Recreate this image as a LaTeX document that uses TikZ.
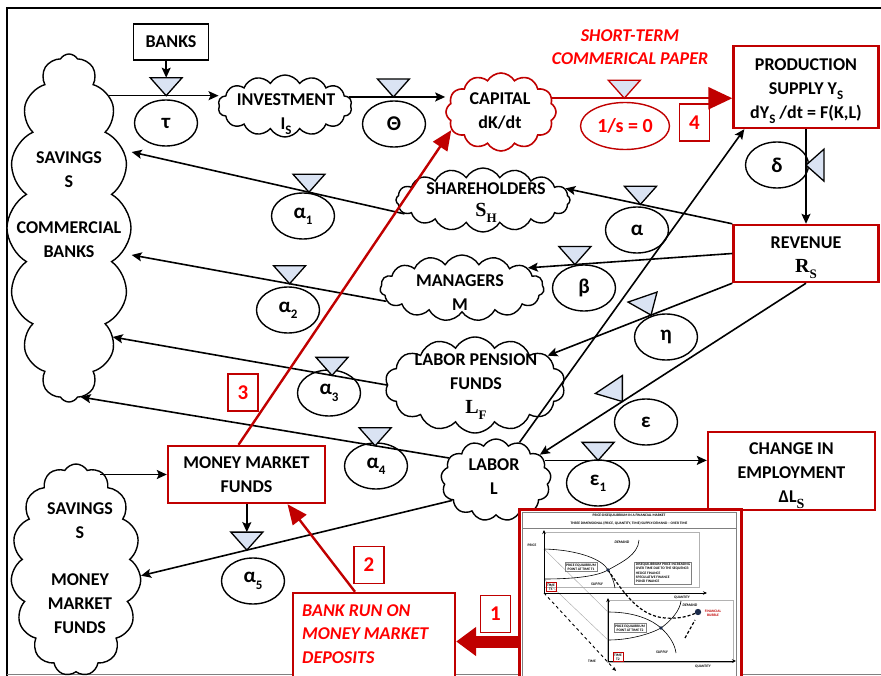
\documentclass[tikz,border=0pt]{standalone}
\usepackage{fontspec}
\setmainfont{Carlito}
\newfontfamily\timesb{Liberation Serif}
\usetikzlibrary{shapes.geometric, shapes.symbols, arrows.meta, calc}

\definecolor{boxred}{HTML}{C00000}
\definecolor{txtred}{HTML}{FF0000}
\definecolor{valveblue}{HTML}{DAE3F3}
\definecolor{bubblenavy}{HTML}{1B2B4B}

\newcommand{\lowidx}[1]{\raisebox{-0.3em}{\fontsize{13}{13}\selectfont #1}}
\newcommand{\serifsym}[2]{{\timesb\bfseries\fontsize{20}{20}\selectfont #1\raisebox{-0.3em}{\fontsize{13}{13}\selectfont #2}}}

\tikzset{every node/.style={font=\bfseries\fontsize{18}{24}\selectfont, align=center, inner sep=0pt},
         stock/.style={cloud, cloud puffs=11, cloud puff arc=120, cloud ignores aspect, draw, line width=1.4pt, fill=white},
         rate/.style={ellipse, draw, line width=1.4pt, minimum width=63pt, minimum height=46pt, font=\bfseries\fontsize{21}{21}\selectfont},
         redbox/.style={draw=boxred, line width=2.4pt, fill=white},
         stepno/.style={draw=boxred, line width=1.8pt, text=txtred, minimum width=30pt, minimum height=37pt, font=\bfseries\fontsize{21}{21}\selectfont},
         flow/.style={line width=1.6pt, -{Stealth[length=10pt, width=9pt, inset=2pt]}},
         redflow/.style={draw=boxred, line width=2.4pt, -{Triangle[length=20pt, width=17pt]}},
         valve/.style={draw=black, fill=valveblue, line width=1.3pt},
         pics/tap/.style={code={\draw[valve, draw=#1] (0,0) -- (-16,-18) -- (16,-18) -- cycle;}},
         pics/tap/.default=black,
         tiny/.style={font=\bfseries\fontsize{3.6}{4.3}\selectfont},
         tinybox/.style={tiny, draw=gray, line width=0.4pt, inner sep=1pt},
         chartaxis/.style={line width=0.9pt, -{Stealth[length=4pt, width=3.5pt]}},
        }

\begin{document}
\begin{tikzpicture}[x=1pt, y=-1pt]
        \useasboundingbox (0,0) rectangle (881,676);
        \draw[line width=2.4pt] (7,690) -- (7,8) -- (890,8);
        \draw[gray, line width=1pt] (7,674) -- (890,674);

        % stocks
        \node[stock, minimum width=124pt, minimum height=348pt, cloud puffs=16] (savcb) at (69,228) {};
        \node[stock, minimum width=130pt, minimum height=212pt, cloud puffs=15] (savmm) at (76,570) {};
        \node[stock, minimum width=134pt, minimum height=62pt, cloud puffs=14] (invest) at (285,106) {};
        \node[stock, draw=boxred, line width=1.6pt, minimum width=110pt, minimum height=78pt, cloud puffs=12] (capital) at (501,112) {};
        \node[stock, minimum width=174pt, minimum height=64pt, cloud puffs=16] (sharehold) at (483,200) {};
        \node[stock, minimum width=164pt, minimum height=66pt, cloud puffs=15] (managers) at (462,288) {};
        \node[stock, minimum width=180pt, minimum height=96pt, cloud puffs=14] (lpf) at (475,385) {};
        \node[stock, minimum width=110pt, minimum height=82pt, cloud puffs=13] (labor) at (496,480) {};

        \node (savcbtxt) at (69,205) {SAVINGS\\S\\[22pt]COMMERCIAL\\BANKS};
        \node (savmmtxt) at (80,568) {SAVINGS\\S\\[23pt]MONEY\\MARKET\\FUNDS};
        \node (investtxt) at (286,114) {INVESTMENT\\I\lowidx{S}};
        \node (capitaltxt) at (500,111) {CAPITAL\\dK/dt};
        \node (sharetxt) at (486,203) {SHAREHOLDERS\\[-2pt]\serifsym{S}{H}};
        \node (managerstxt) at (460,293) {MANAGERS\\M};
        \node (lpftxt) at (476,387) {LABOR PENSION\\FUNDS\\\serifsym{L}{F}};
        \node (labortxt) at (494,477) {LABOR\\L};

        % boxes
        \node[draw, line width=1.6pt, minimum width=75pt, minimum height=36pt] (banks) at (171,42) {BANKS};
        \node[redbox, minimum width=145pt, minimum height=82pt] (prod) at (806,87) {};
        \node (prodtxt) at (806,91) {PRODUCTION\\SUPPLY Y\lowidx{S}\\dY\lowidx{S} /dt = F(K,L)};
        \node[redbox, minimum width=145pt, minimum height=57pt] (rev) at (806,253.5) {};
        \node (revtxt) at (806,257.5) {REVENUE\\\serifsym{R}{S}};
        \node[redbox, minimum width=167pt, minimum height=78pt] (change) at (791.5,471) {};
        \node (changetxt) at (791.5,475.5) {CHANGE IN\\EMPLOYMENT\\ΔL\raisebox{-0.3em}{\timesb\bfseries\fontsize{14}{14}\selectfont S}};
        \node[redbox, minimum width=157pt, minimum height=57pt] (mmf) at (246.5,474.5) {MONEY MARKET\\FUNDS};
        \node[redbox, minimum width=162pt, minimum height=97pt] (bankrun) at (374,641.5) {};
        \node[anchor=west, align=left, text=txtred, font=\bfseries\itshape\fontsize{18}{23.5}\selectfont] (bankruntxt) at (302,634) {BANK RUN ON\\MONEY MARKET\\DEPOSITS};
        \node[text=txtred, font=\bfseries\itshape\fontsize{18}{23}\selectfont] (papertxt) at (630,47) {SHORT-TERM\\COMMERICAL PAPER};

        % rates
        \node[rate] (tau) at (166,123) {τ};
        \node[rate] (theta) at (394,124) {Θ};
        \node[rate, draw=boxred, text=txtred, minimum width=89pt, minimum height=47pt, font=\bfseries\fontsize{20}{20}\selectfont] (paper) at (625,126) {1/s = 0};
        \node[rate] (delta) at (777,165) {δ};
        \node[rate] (alpha) at (637,230) {α};
        \node[rate] (beta) at (584,288) {β};
        \node[rate] (eta) at (666,337) {η};
        \node[rate] (eps) at (646,422) {ε};
        \node[rate] (alpha1) at (303,216) {α\lowidx{1}};
        \node[rate] (alpha2) at (288,310) {α\lowidx{2}};
        \node[rate] (alpha3) at (329,393) {α\lowidx{3}};
        \node[rate] (alpha4) at (376,466) {α\lowidx{4}};
        \node[rate] (eps1) at (598,483) {ε\lowidx{1}};
        \node[rate] (alpha5) at (253,581) {α\lowidx{5}};

        % step numbers
        \node[stepno] (no4) at (694.5,122.5) {4};
        \node[stepno] (no3) at (243,392.5) {3};
        \node[stepno] (no2) at (369,565) {2};
        \node[stepno] (no1) at (495.5,614) {1};

        % flows
        \draw[flow] (savcb.73) -- (savcb.73 -| invest.west) coordinate[pos=0.52] (vtau);
        \draw[flow] (banks.south -| vtau) -- ([yshift=18pt]vtau);
        \draw[flow] (invest.8) -- (invest.8 -| capital.west) coordinate[pos=0.46] (vtheta);
        \draw[draw=boxred, line width=2.4pt, -{Triangle[length=24pt, width=22pt]}] (capital.15) -- (capital.15 -| prod.west) coordinate[pos=0.40] (vpaper);
        \draw[flow] (prod.south) -- (rev.north) coordinate[pos=0.38] (vdelta);
        \draw[flow] (rev.north west) -- (sharehold.8) coordinate[pos=0.55] (valpha);
        \draw[flow] (rev.west) -- (managers.17) coordinate[pos=0.77] (vbeta);
        \draw[flow] (rev.south west) -- (lpf.22) coordinate[pos=0.44] (veta);
        \draw[flow] (rev.south) -- (labor.30) coordinate[pos=0.69] (veps);
        \draw[flow] (labor.58) -- ([xshift=12pt]prod.south west);
        \draw[flow] (labor.22) -- (labor.22 -| change.west) coordinate[pos=0.33] (veps1);
        \draw[flow] (sharehold.190) -- ([yshift=76pt]savcb.east) coordinate[pos=0.35] (valpha1);
        \draw[flow] (managers.190) -- ([yshift=-27pt]savcb.east) coordinate[pos=0.38] (valpha2);
        \draw[flow] (lpf.west) -- ([shift={(-19pt,-109pt)}]savcb.east) coordinate[pos=0.20] (valpha3);
        \draw[flow] (labor.155) -- ([shift={(-51pt,-169pt)}]savcb.east) coordinate[pos=0.20] (valpha4);
        \draw[flow] (labor.205) -- (savmm.-5) coordinate[pos=0.66] (valpha5);
        \draw[flow] ($(savmm.north east |- mmf.west)+(-22,0)$) -- (mmf.west);
        \draw[flow] (mmf.south -| valpha5) -- ([yshift=18pt]valpha5);

        % valves
        \foreach \v in {vtau, vtheta, valpha, vbeta, veps1, valpha1, valpha2, valpha3, valpha4, valpha5}
            \pic at (\v) {tap};
        \pic at (vpaper) {tap=boxred};
        \pic[rotate=-90] at (vdelta) {tap};
        \draw[valve] (veta) -- ++(-23,-13) -- ++(29,-10) -- cycle;
        \draw[valve] (veps) -- ++(0,-26) -- ++(-27,18) -- cycle;

        % red steps
        \draw[redflow] ([xshift=-8pt]mmf.north) -- (capital.200);
        \draw[redflow] ([xshift=-19pt]bankrun.north) -- ([xshift=41pt]mmf.south);

        % chart in the red frame
        \node[redbox, line width=3pt, minimum width=222pt, minimum height=181pt] (inset) at (630,599.5) {};
        \draw[draw=boxred, line width=12pt, -{Triangle[length=20pt, width=28pt]}] (bankrun.east -| inset.west) -- (bankrun.east);
        \draw[gray, line width=0.5pt] (522,512) rectangle (736,690);
        \draw[gray, line width=0.5pt] (522,528) -- (736,528);
        \node[tiny] (title1) at (629,515.5) {PRICE-DISEQUILIBRIUM IN A FINANCIAL MARKET};
        \node[tiny] (title2) at (629,523) {THREE DIMENSIONAL (PRICE, QUANTITY, TIME) SUPPLY-DEMAND -- OVER TIME};
        \draw[gray!60, line width=0.5pt] (544,532) rectangle (699,587);
        \draw[gray!60, line width=0.5pt] (607,600) rectangle (733,662);
        \draw[gray!70, line width=0.4pt] (544,549) -- (608,612);
        \draw[gray!70, line width=0.4pt] (544,579) -- (608,640);
        \draw[chartaxis] (544,593) -- (544,530);
        \draw[chartaxis] (544,593) -- (707,593);
        \draw[chartaxis] (608,661) -- (608,598);
        \draw[chartaxis] (608,661) -- (736,661);
        \draw[chartaxis, dashed] (544,593) -- (616,671);
        \draw[line width=0.6pt] (544,549) .. controls (580,550) and (603,560) .. (608,570) .. controls (612,576) and (614,582) .. (615,588);
        \draw[line width=0.6pt] (544,579) .. controls (575,579) and (598,576) .. (608,570) .. controls (622,562) and (638,555) .. (639,540);
        \draw[line width=0.6pt] (608,612) .. controls (635,612) and (652,620) .. (661,628) .. controls (670,636) and (675,645) .. (676,653);
        \draw[line width=0.6pt] (608,640) .. controls (630,640) and (650,634) .. (661,628) .. controls (672,620) and (680,610) .. (681,601);
        \draw[line width=1.2pt, dash pattern=on 3pt off 2pt] (608,570) .. controls (625,595) and (640,616) .. (665,618) .. controls (680,619) and (690,616) .. (698,612);
        \draw[line width=1.2pt, dash pattern=on 3pt off 2pt] (685,638) -- (695,620);
        \fill[bubblenavy] (608,570) circle (1.8);
        \fill[bubblenavy] (661,628) circle (1.8);
        \fill[bubblenavy] (698,612) circle (3.2);
        \node[tiny] (pricelbl) at (532,545) {PRICE};
        \node[tiny] (qty1) at (682,598) {QUANTITY};
        \node[tiny] (qty2) at (703,667) {QUANTITY};
        \node[tiny] (timelbl) at (592,661) {TIME};
        \node[tiny, font=\bfseries\itshape\fontsize{3.8}{4.3}\selectfont] (dem1) at (622,542) {DEMAND};
        \node[tiny, font=\bfseries\itshape\fontsize{3.8}{4.3}\selectfont] (sup1) at (597,584) {SUPPLY};
        \node[tiny, font=\bfseries\itshape\fontsize{3.8}{4.3}\selectfont] (dem2) at (690,605) {DEMAND};
        \node[tiny, font=\bfseries\itshape\fontsize{3.8}{4.3}\selectfont] (sup2) at (662,652) {SUPPLY};
        \node[tinybox] (eq1) at (581,567) {PRICE EQUILIBRIUM\\POINT AT TIME T1};
        \node[tinybox] (eq2) at (630,628) {PRICE EQUILIBRIUM\\POINT AT TIME T2};
        \node[tinybox, align=left, inner sep=1.5pt] (diseq) at (663,573) {DISEQUILIBRIUM PRICE INCREASING\\OVER TIME DUE TO THE SEQUENCE:\\HEDGE FINANCE\\SPECULATIVE FINANCE\\PONZI FINANCE};
        \node[tinybox, draw=boxred] (t1box) at (551,587) {TIME\\T1};
        \node[tinybox, draw=boxred] (t2box) at (618,657) {TIME\\T2};
        \node[tiny, text=boxred] (bubble) at (713,613) {FINANCIAL\\BUBBLE};
\end{tikzpicture}
\end{document}
